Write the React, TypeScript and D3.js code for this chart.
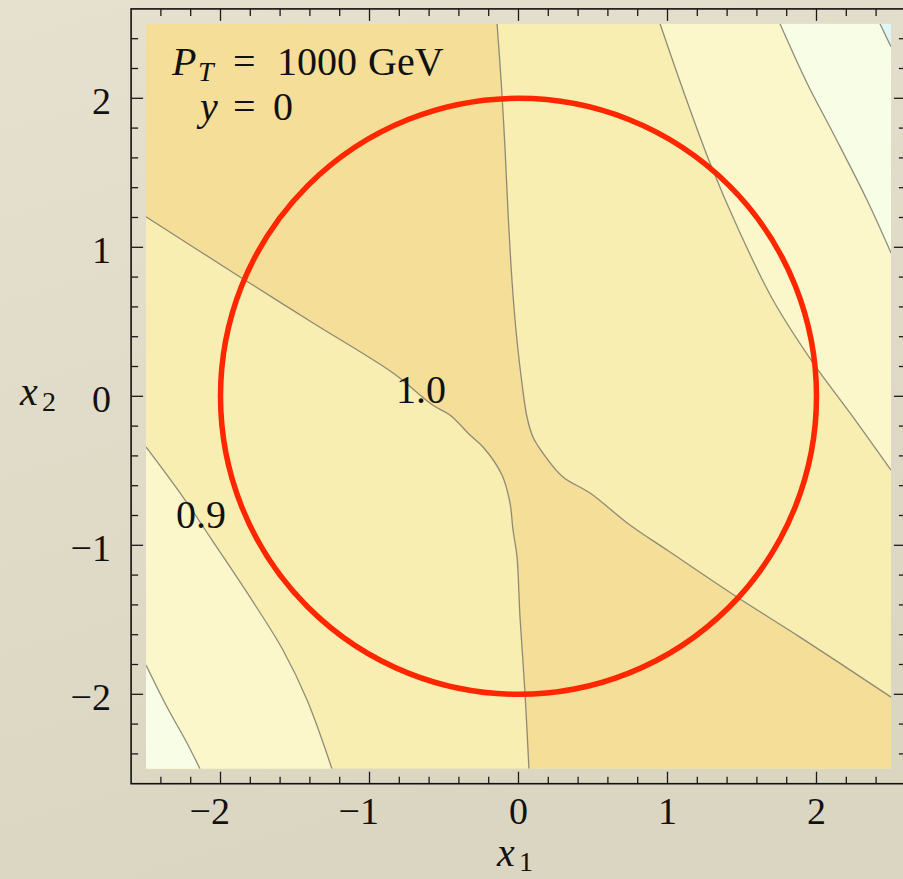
import React from "react";
import * as d3 from "d3";

type Pt = [number, number];

// plot window in data units (x1, x2); the frame sits a little outside it
const DOMAIN: [number, number] = [-2.5, 2.5];
const FRAME_PAD = 0.1;
const MAJOR_TICKS = [-2, -1, 0, 1, 2];
const TICK_LABELS = ["\u22122", "\u22121", "0", "1", "2"];
const MINOR_PER_UNIT = 5;
const CIRCLE_RADIUS = 2;

// contour lines, in (x1, x2)
const CONTOUR_1_0_WEST: Pt[] = [
  [-2.5, 1.205], [-1.869, 0.801], [-1.379, 0.492], [-0.842, 0.156],
  [-0.574, -0.06], [-0.46, -0.126], [-0.326, -0.26], [-0.238, -0.34],
  [-0.111, -0.528], [-0.057, -0.716], [-0.037, -0.897], [-0.01, -1.078],
  [0.01, -1.481], [0.044, -1.998], [0.07, -2.5],
];
const CONTOUR_1_0_EAST: Pt[] = [
  [-0.144, 2.5], [-0.117, 2.123], [-0.091, 1.673], [-0.07, 1.23],
  [-0.044, 0.781], [-0.017, 0.445], [0.023, 0.089], [0.057, -0.139],
  [0.097, -0.273], [0.164, -0.381], [0.299, -0.542], [0.48, -0.649],
  [0.748, -0.864], [0.997, -1.032], [1.466, -1.347], [1.889, -1.616],
  [2.5, -2.019],
];
const CONTOUR_0_9_SW: Pt[] = [
  [-2.5, -0.34], [-2.252, -0.676], [-2.057, -0.965], [-1.789, -1.368],
  [-1.581, -1.703], [-1.419, -2.039], [-1.252, -2.5],
];
const CONTOUR_0_9_NE: Pt[] = [
  [0.95, 2.5], [1.104, 2.056], [1.285, 1.566], [1.487, 1.096],
  [1.708, 0.646], [1.977, 0.224], [2.225, -0.112], [2.5, -0.495],
];
const CONTOUR_0_8_SW: Pt[] = [
  [-2.5, -1.803], [-2.359, -2.085], [-2.225, -2.327], [-2.138, -2.5],
];
const CONTOUR_0_8_NE: Pt[] = [
  [1.755, 2.5], [1.936, 2.103], [2.111, 1.767], [2.339, 1.317], [2.5, 0.962],
];
const CONTOUR_0_7_NE: Pt[] = [[2.426, 2.5], [2.5, 2.346]];

const CONTOUR_LABELS: { text: string; at: Pt }[] = [
  { text: "1.0", at: [-0.654, -0.045] },
  { text: "0.9", at: [-2.131, -0.887] },
];

const BAND_COLORS = {
  above10: "#f5de98",
  from09: "#f8eeb1",
  from08: "#fbf7ca",
  from07: "#f8fde6",
  below07: "#e0f6f5",
};

const W = 903;
const H = 879;
const FONT = "'Liberation Serif', 'Times New Roman', serif";

export default function App() {
  const x = d3.scaleLinear().domain(DOMAIN).range([146, 891]);
  const y = d3.scaleLinear().domain(DOMAIN).range([768.8, 23.8]);
  const [lo, hi] = DOMAIN;
  const fx0 = x(lo - FRAME_PAD);
  const fx1 = x(hi + FRAME_PAD);
  const fy0 = y(hi + FRAME_PAD);
  const fy1 = y(lo - FRAME_PAD);

  const line = d3
    .line<Pt>()
    .x((d) => x(d[0]))
    .y((d) => y(d[1]))
    .curve(d3.curveCatmullRom.alpha(0.5));

  const to = (p: Pt) => `L${x(p[0])},${y(p[1])}`;
  const cont = (pts: Pt[]) => line(pts)!.replace(/^M/, "L");

  // a contour closed off along the plot edge through the given corners
  const region = (pts: Pt[], corners: Pt[]) => line(pts) + corners.map(to).join("") + "Z";

  // band above 1.0 runs from the top-left corner through the saddle to the bottom-right corner
  const band =
    line(CONTOUR_1_0_WEST) +
    to([hi, lo]) +
    cont([...CONTOUR_1_0_EAST].reverse()) +
    to([lo, hi]) +
    "Z";

  const regions = [
    { d: band, fill: BAND_COLORS.above10 },
    { d: region(CONTOUR_0_9_SW, [[lo, lo]]), fill: BAND_COLORS.from08 },
    { d: region(CONTOUR_0_9_NE, [[hi, hi]]), fill: BAND_COLORS.from08 },
    { d: region(CONTOUR_0_8_SW, [[lo, lo]]), fill: BAND_COLORS.from07 },
    { d: region(CONTOUR_0_8_NE, [[hi, hi]]), fill: BAND_COLORS.from07 },
    { d: region(CONTOUR_0_7_NE, [[hi, hi]]), fill: BAND_COLORS.below07 },
  ];

  const contours = [
    CONTOUR_1_0_WEST, CONTOUR_1_0_EAST, CONTOUR_0_9_SW, CONTOUR_0_9_NE,
    CONTOUR_0_8_SW, CONTOUR_0_8_NE, CONTOUR_0_7_NE,
  ];

  const minor = d3
    .range(-12, 13)
    .filter((k) => k % MINOR_PER_UNIT !== 0)
    .map((k) => k / MINOR_PER_UNIT);

  const MAJ = 12;
  const MIN = 7;
  const tickStroke = { stroke: "#1a1a1a", strokeWidth: 1.3 };

  return (
    <div style={{ position: "absolute", left: 0, top: 0 }}>
      <svg width={W} height={H} style={{ display: "block" }}>
        <defs>
          <linearGradient id="page" x1="0" y1="0" x2="0.3" y2="1">
            <stop offset="0%" stopColor="#e6e1ce" />
            <stop offset="100%" stopColor="#dbd6c2" />
          </linearGradient>
          <clipPath id="plot">
            <rect x={x(lo)} y={y(hi)} width={x(hi) - x(lo)} height={y(lo) - y(hi)} />
          </clipPath>
        </defs>
        <rect width={W} height={H} fill="url(#page)" />

        <g clipPath="url(#plot)">
          <rect
            x={x(lo)}
            y={y(hi)}
            width={x(hi) - x(lo)}
            height={y(lo) - y(hi)}
            fill={BAND_COLORS.from09}
          />
          {regions.map((r, i) => (
            <path key={i} d={r.d} fill={r.fill} />
          ))}
          {contours.map((c, i) => (
            <path
              key={i}
              d={line(c)!}
              fill="none"
              stroke="#7d7a6c"
              strokeOpacity={0.85}
              strokeWidth={1.3}
              strokeLinejoin="round"
            />
          ))}
          <circle
            cx={x(0)}
            cy={y(0)}
            r={x(CIRCLE_RADIUS) - x(0)}
            fill="none"
            stroke="#ff2600"
            strokeWidth={5.5}
          />
        </g>

        {CONTOUR_LABELS.map((l) => (
          <text
            key={l.text}
            x={x(l.at[0])}
            y={y(l.at[1])}
            textAnchor="middle"
            fontFamily={FONT}
            fontSize={40}
            fill="#111"
          >
            {l.text}
          </text>
        ))}

        <g fontFamily={FONT} fill="#111">
          <text y={75} fontSize={40}>
            <tspan x={172} fontStyle="italic">P</tspan>
            <tspan x={198} dy={6} fontSize={28} fontStyle="italic">T</tspan>
            <tspan x={233} dy={-6}>=</tspan>
            <tspan x={277}>1000</tspan>
            <tspan x={368}>GeV</tspan>
          </text>
          <text y={120} fontSize={40}>
            <tspan x={200} fontStyle="italic">y</tspan>
            <tspan x={233}>=</tspan>
            <tspan x={273}>0</tspan>
          </text>
        </g>

        {/* frame */}
        <g fill="none">
          <rect x={fx0} y={fy0} width={fx1 - fx0} height={fy1 - fy0} stroke="#111" strokeWidth={1.6} />
          {MAJOR_TICKS.map((v) => (
            <g key={"M" + v} {...tickStroke}>
              <line x1={x(v)} x2={x(v)} y1={fy1} y2={fy1 - MAJ} />
              <line x1={x(v)} x2={x(v)} y1={fy0} y2={fy0 + MAJ} />
              <line x1={fx0} x2={fx0 + MAJ} y1={y(v)} y2={y(v)} />
              <line x1={fx1} x2={fx1 - MAJ} y1={y(v)} y2={y(v)} />
            </g>
          ))}
          {minor.map((v) => (
            <g key={"m" + v} {...tickStroke}>
              <line x1={x(v)} x2={x(v)} y1={fy1} y2={fy1 - MIN} />
              <line x1={x(v)} x2={x(v)} y1={fy0} y2={fy0 + MIN} />
              <line x1={fx0} x2={fx0 + MIN} y1={y(v)} y2={y(v)} />
              <line x1={fx1} x2={fx1 - MIN} y1={y(v)} y2={y(v)} />
            </g>
          ))}
        </g>

        <g fontFamily={FONT} fontSize={38} fill="#111">
          {MAJOR_TICKS.map((v, i) => (
            <text key={"xl" + v} x={x(v) + 9.5} y={824} textAnchor="end">
              {TICK_LABELS[i]}
            </text>
          ))}
          {MAJOR_TICKS.map((v, i) => (
            <text key={"yl" + v} x={111} y={y(v) + 16} textAnchor="end">
              {TICK_LABELS[i]}
            </text>
          ))}
        </g>

        <g fontFamily={FONT} fill="#111">
          <text y={866} fontSize={40}>
            <tspan x={497} fontStyle="italic">x</tspan>
            <tspan x={519} dy={5} fontSize={28}>1</tspan>
          </text>
          <text y={405} fontSize={40}>
            <tspan x={20} fontStyle="italic">x</tspan>
            <tspan x={42} dy={6} fontSize={28}>2</tspan>
          </text>
        </g>
      </svg>
    </div>
  );
}
